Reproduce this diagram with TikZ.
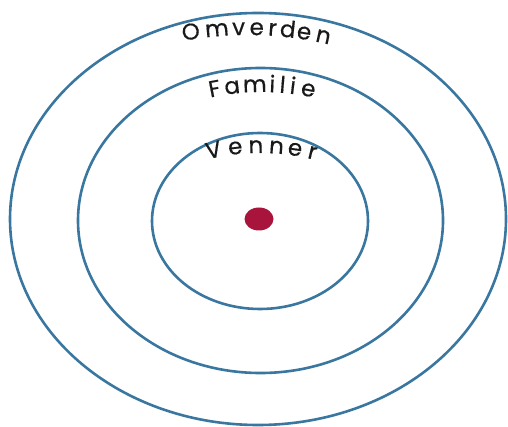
\documentclass[tikz,border=0pt]{standalone}
\usepackage{fontspec}
\setmainfont{Poppins}
\newfontfamily\lblfont{Poppins}[FakeBold=0.5]
\definecolor{ringblue}{HTML}{3A77A0}
\definecolor{dotred}{HTML}{A8143C}
\begin{document}
\begin{tikzpicture}[x=1pt,y=1pt,
  ring/.style={draw=ringblue, line width=2.6pt},
  letter/.style={font=\lblfont\fontsize{23}{23}\selectfont, anchor=base, inner sep=0pt, text=black!90}]
\useasboundingbox (0,0) rectangle (508,-427);
\coordinate (c) at (258,-219);
\draw[ring] (258,-219) ellipse [x radius=248, y radius=206];
\draw[ring] (260.5,-220.5) ellipse [x radius=182.5, y radius=152.5];
\draw[ring] (260,-221) ellipse [x radius=108, y radius=88];
\fill[dotred] (259,-219) ellipse [x radius=14.5, y radius=11.5];
% Omverden
\foreach \ch/\t [count=\i] in {O/-9.2, m/-5.0, v/-1.5, e/1.4, r/3.95, d/6.4, e/9.05, n/12.2}
  \node[letter, rotate={-(\t)}] (om\i) at ([shift={({90-(\t)}:350)}]248,-385) {\ch};
% Familie
\foreach \ch/\t [count=\i] in {F/-11.05, a/-6.94, m/-1.67, i/2.39, l/4.78, i/7.18, e/10.81}
  \node[letter, rotate={-(\t)}] (fa\i) at ([shift={({90-(\t)}:240)}]262,-332) {\ch};
% Venner
\foreach \ch/\t [count=\i] in {V/-11.8, e/-6.26, n/-1.04, n/4.17, e/8.9, r/13.4}
  \node[letter, rotate={-(\t)}] (ve\i) at ([shift={({90-(\t)}:220)}]260,-373) {\ch};
\end{tikzpicture}
\end{document}
